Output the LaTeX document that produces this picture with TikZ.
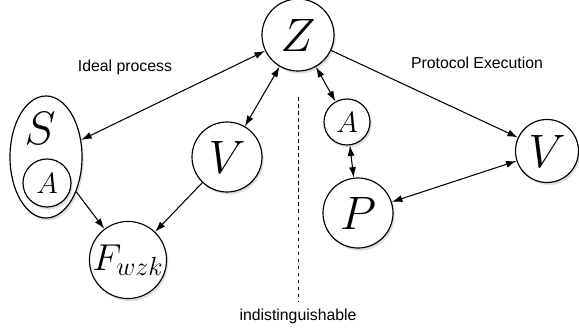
\documentclass[tikz,border=0pt]{standalone}
\usepackage{fix-cm}
\usepackage{fontspec}
\setsansfont{Liberation Sans}
\usepackage{tikz}
\usetikzlibrary{arrows.meta, shapes.geometric, shadows}

\newcommand{\bigsym}[1]{\fontsize{40}{40}\selectfont$#1$}
\newcommand{\smallsym}[1]{\fontsize{25}{25}\selectfont$#1$}

\begin{document}
\begin{tikzpicture}[>={Latex[length=9pt, width=6pt]}, x=0.03cm, y=-0.03cm,
    line width=0.9pt,
    party/.style={circle, draw, line width=1pt, fill=white, inner sep=0pt,
      drop shadow={shadow xshift=1.5pt, shadow yshift=-2.2pt, opacity=0.25}},
    lbl/.style={font=\sffamily\fontsize{13.5}{15}\selectfont}]
  \useasboundingbox (0,0) rectangle (579,329);

  % ideal process
  \node[ellipse, draw, line width=1pt, fill=white, minimum width=2.16cm, minimum height=3.66cm,
    drop shadow={shadow xshift=1.5pt, shadow yshift=-2.2pt, opacity=0.25}] (sim) at (46,157) {};
  \node at (40,128) (slab) {\bigsym{S}};
  \node[party, minimum size=1.44cm] (adv1) at (47,183) {\smallsym{A}};
  \node[party, minimum size=2.16cm] (env) at (298,35) {\bigsym{Z}};
  \node[party, minimum size=2.1cm] (ver1) at (227,157) {\bigsym{V}};
  \node[party, minimum size=2.28cm] (func) at (128,260) {\fontsize{32}{32}\selectfont$F_{wzk}$};

  % protocol execution
  \node[party, minimum size=1.38cm] (adv2) at (347,122) {\smallsym{A}};
  \node[party, minimum size=2.1cm] (prv) at (358,213) {\bigsym{P}};
  \node[party, minimum size=1.89cm] (ver2) at (547,151) {\bigsym{V}};

  \node[lbl] (ideal) at (125,67) {Ideal process};
  \node[lbl] (real) at (477,63) {Protocol Execution};
  \node[lbl] (indist) at (298,316) {indistinguishable};
  \coordinate (sepTop) at (298,97);
  \coordinate (sepBot) at (298,302);
  \draw[dashed, line width=0.7pt] (sepTop) -- (sepBot);

  \draw[<->] (env) -- (sim);
  \draw[<->] (env) -- (ver1);
  \draw[->] (sim.-49) -- (func);
  \draw[->] (ver1) -- (func);
  \draw[<->] (env) -- (adv2);
  \draw[<->] (adv2) -- (prv);
  \draw[->] (env) -- (ver2);
  \draw[<->] (prv) -- (ver2);
\end{tikzpicture}
\end{document}
